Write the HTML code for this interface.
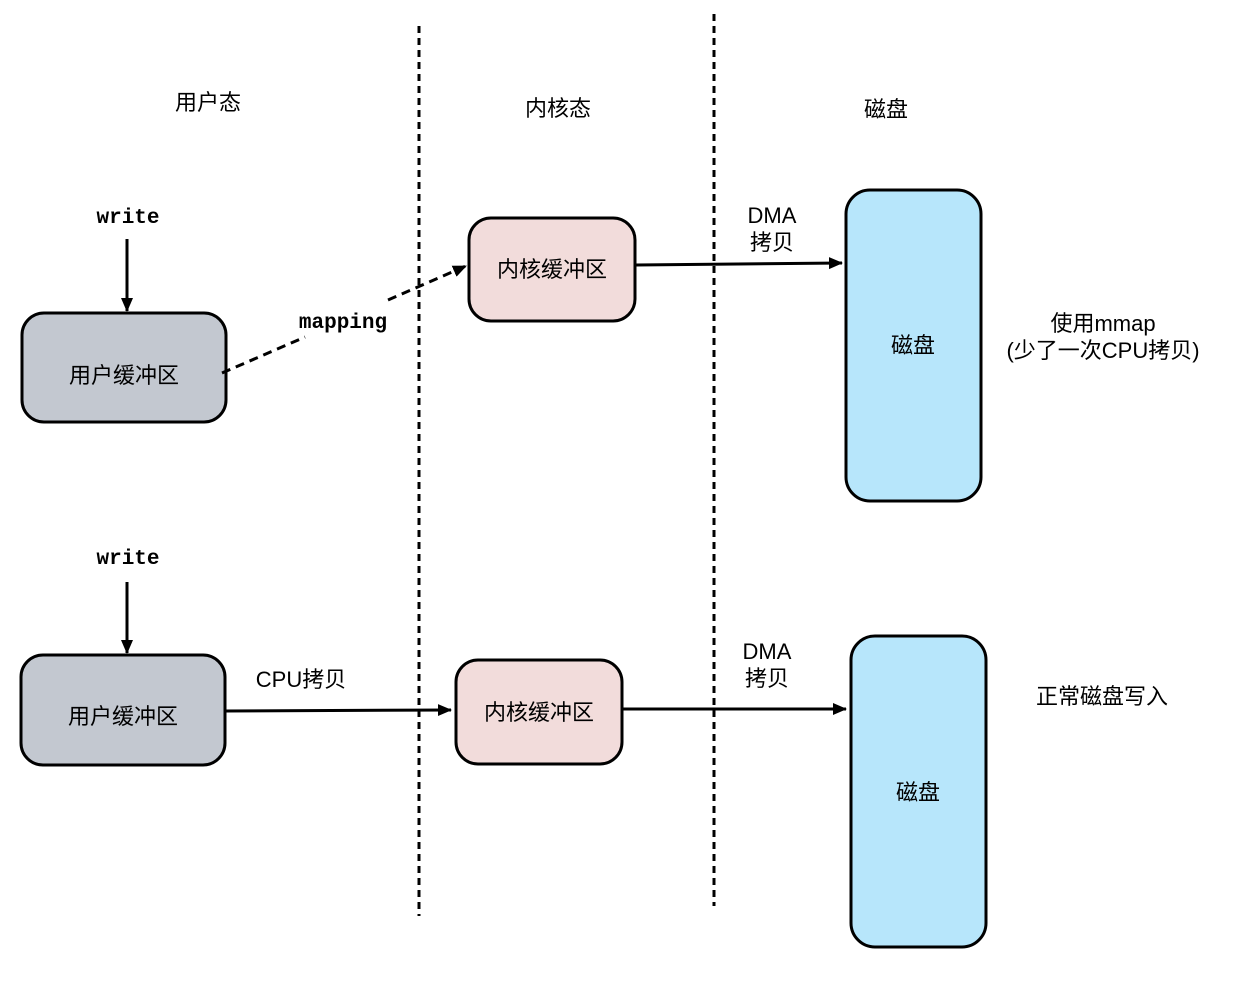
<!DOCTYPE html>
<html><head><meta charset="utf-8"><style>
body{margin:0;background:#fff}
svg text{font-family:"Liberation Sans","Noto Sans CJK SC",sans-serif;font-size:22px;fill:#000}
svg text.m{font-family:"Liberation Mono","DejaVu Sans Mono",monospace;font-weight:bold;font-size:21px}
</style></head><body>
<svg width="1239" height="988" viewBox="0 0 1239 988" xmlns="http://www.w3.org/2000/svg">
<defs><marker id="a" markerWidth="14" markerHeight="14" refX="13" refY="7" orient="auto" markerUnits="userSpaceOnUse"><path d="M0,1 L14,7 L0,13 Z" fill="#000"/></marker></defs>
<g stroke="#000" stroke-width="3" stroke-dasharray="7,5">
<line x1="419" y1="26" x2="419" y2="916"/>
<line x1="714" y1="14" x2="714" y2="906"/>
</g>
<text x="208" y="110" text-anchor="middle">用户态</text>
<text x="558" y="116" text-anchor="middle">内核态</text>
<text x="886" y="117" text-anchor="middle">磁盘</text>
<text class="m" x="128" y="223" text-anchor="middle">write</text>
<line x1="127" y1="239" x2="127" y2="311" stroke="#000" stroke-width="3" marker-end="url(#a)"/>
<rect x="22" y="313" width="204" height="109" rx="22" fill="#c3c8d0" stroke="#000" stroke-width="3"/>
<text x="124" y="383" text-anchor="middle">用户缓冲区</text>
<line x1="222" y1="373" x2="305" y2="337" stroke="#000" stroke-width="3" stroke-dasharray="9,6"/>
<line x1="388" y1="300" x2="466" y2="266" stroke="#000" stroke-width="3" stroke-dasharray="9,6" marker-end="url(#a)"/>
<text class="m" x="343" y="328" text-anchor="middle">mapping</text>
<rect x="469" y="218" width="166" height="103" rx="22" fill="#f2dcdb" stroke="#000" stroke-width="3"/>
<text x="552" y="277" text-anchor="middle">内核缓冲区</text>
<line x1="636" y1="265" x2="842" y2="263" stroke="#000" stroke-width="3" marker-end="url(#a)"/>
<text x="772" y="223" text-anchor="middle">DMA</text>
<text x="772" y="250" text-anchor="middle">拷贝</text>
<rect x="846" y="190" width="135" height="311" rx="24" fill="#b7e6fb" stroke="#000" stroke-width="3"/>
<text x="913" y="353" text-anchor="middle">磁盘</text>
<text x="1103" y="331" text-anchor="middle">使用mmap</text>
<text x="1103" y="358" text-anchor="middle">(少了一次CPU拷贝)</text>
<text class="m" x="128" y="564" text-anchor="middle">write</text>
<line x1="127" y1="582" x2="127" y2="653" stroke="#000" stroke-width="3" marker-end="url(#a)"/>
<rect x="21" y="655" width="204" height="110" rx="22" fill="#c3c8d0" stroke="#000" stroke-width="3"/>
<text x="123" y="724" text-anchor="middle">用户缓冲区</text>
<line x1="225" y1="711" x2="451" y2="710" stroke="#000" stroke-width="3" marker-end="url(#a)"/>
<text x="301" y="687" text-anchor="middle">CPU拷贝</text>
<rect x="456" y="660" width="166" height="104" rx="22" fill="#f2dcdb" stroke="#000" stroke-width="3"/>
<text x="539" y="720" text-anchor="middle">内核缓冲区</text>
<line x1="623" y1="709" x2="846" y2="709" stroke="#000" stroke-width="3" marker-end="url(#a)"/>
<text x="767" y="659" text-anchor="middle">DMA</text>
<text x="767" y="686" text-anchor="middle">拷贝</text>
<rect x="851" y="636" width="135" height="311" rx="24" fill="#b7e6fb" stroke="#000" stroke-width="3"/>
<text x="918" y="800" text-anchor="middle">磁盘</text>
<text x="1102" y="704" text-anchor="middle">正常磁盘写入</text>
</svg>
</body></html>
